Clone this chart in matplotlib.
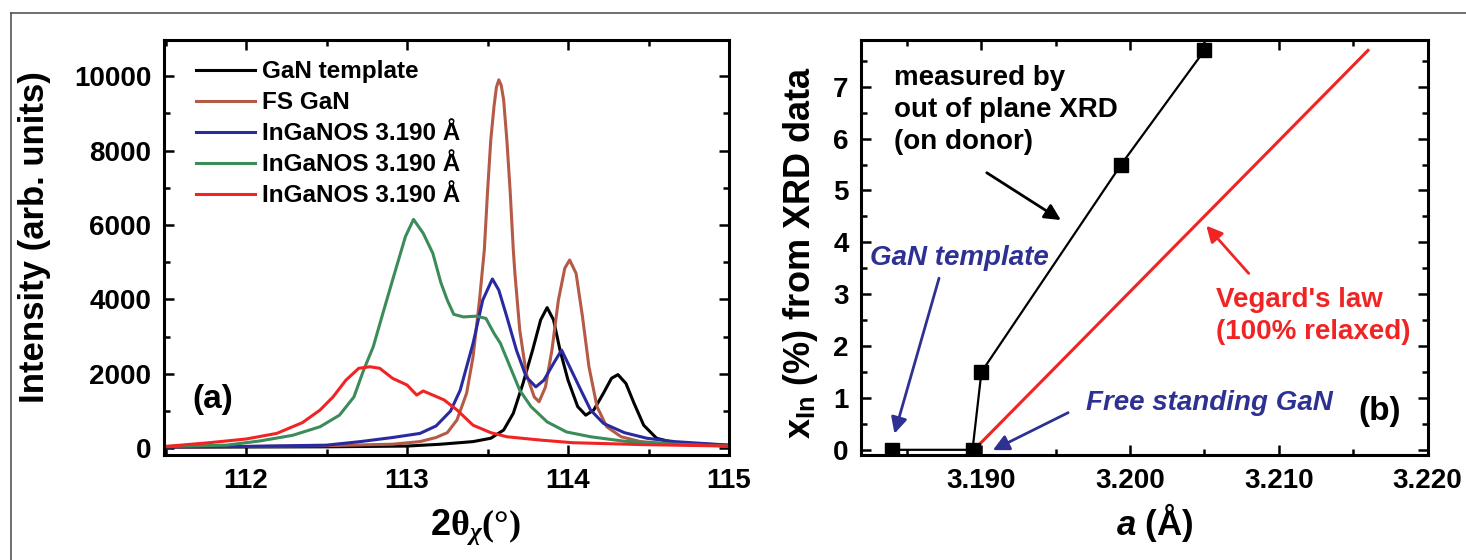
import numpy as np
import matplotlib
matplotlib.use("Agg")
import matplotlib.pyplot as plt
from matplotlib.lines import Line2D
from matplotlib.ticker import MultipleLocator

plt.rcParams['font.family'] = ['Liberation Sans', 'DejaVu Sans']
plt.rcParams['font.weight'] = 'bold'
plt.rcParams['mathtext.fontset'] = 'custom'
plt.rcParams['mathtext.rm'] = 'Liberation Serif'
plt.rcParams['mathtext.it'] = 'Liberation Serif:italic'
plt.rcParams['mathtext.sf'] = 'Liberation Serif:bold'
plt.rcParams['mathtext.bf'] = 'Liberation Sans:bold'
plt.rcParams['mathtext.bfit'] = 'Liberation Sans:bold:italic'

# ---- panel (a): rocking curves ----
tmpl_x = [111.5, 112.0, 112.5, 113.0, 113.21, 113.41, 113.52, 113.60, 113.66, 113.72, 113.78,
          113.83, 113.87, 113.91, 113.95, 114.00, 114.06, 114.11, 114.16, 114.22, 114.27,
          114.31, 114.36, 114.41, 114.47, 114.55, 114.66, 115.0]
tmpl_y = [30, 35, 40, 60, 110, 180, 270, 490, 940, 1740, 2640, 3450, 3780, 3450, 2640, 1830,
          1120, 890, 1030, 1480, 1880, 1980, 1740, 1210, 620, 270, 150, 80]

fs_x = [111.5, 112.0, 112.5, 112.91, 113.08, 113.18, 113.25, 113.31, 113.37, 113.41, 113.45,
        113.48, 113.50, 113.52, 113.54, 113.555, 113.57, 113.585, 113.60, 113.62, 113.64,
        113.66, 113.67, 113.70, 113.74, 113.79, 113.82, 113.86, 113.90, 113.94, 113.98, 114.01,
        114.05, 114.09, 114.13, 114.18, 114.24, 114.33, 114.45, 114.66, 115.0]
fs_y = [40, 50, 70, 110, 180, 290, 420, 760, 1480, 2460, 3980, 5330, 6900, 8280, 9180, 9700,
        9900, 9750, 9360, 8280, 6940, 5330, 4700, 3180, 2010, 1380, 1250, 1650, 2640, 3980,
        4840, 5060, 4700, 3530, 2190, 1120, 580, 310, 180, 110, 70]

blue_x = [111.5, 112.0, 112.5, 112.71, 112.91, 113.08, 113.18, 113.27, 113.33, 113.41, 113.47,
          113.53, 113.57, 113.62, 113.68, 113.74, 113.80, 113.85, 113.91, 113.96, 114.01,
          114.08, 114.14, 114.22, 114.35, 114.49, 114.66, 115.0]
blue_y = [40, 50, 85, 180, 290, 400, 600, 1000, 1560, 2820, 3980, 4550, 4250, 3530, 2630, 1920,
          1650, 1830, 2280, 2640, 2190, 1560, 1030, 670, 420, 270, 180, 85]

green_x = [111.5, 111.88, 112.09, 112.29, 112.46, 112.58, 112.67, 112.73, 112.79, 112.85, 112.91,
           112.99, 113.04, 113.10, 113.16, 113.21, 113.25, 113.29, 113.35, 113.43, 113.49,
           113.54, 113.58, 113.64, 113.70, 113.77, 113.87, 113.99, 114.14, 114.35, 114.66, 115.0]
green_y = [50, 85, 200, 350, 580, 890, 1380, 2100, 2730, 3630, 4520, 5690, 6150, 5780, 5240,
           4450, 3980, 3600, 3530, 3550, 3490, 3090, 2820, 2190, 1560, 1120, 710, 440, 310,
           190, 110, 60]

red_x = [111.5, 111.77, 112.0, 112.19, 112.35, 112.46, 112.54, 112.62, 112.70, 112.77, 112.83,
         112.91, 113.0, 113.06, 113.10, 113.16, 113.23, 113.31, 113.41, 113.52, 113.62, 113.83,
         114.03, 114.45, 115.0]
red_y = [50, 150, 250, 400, 690, 1030, 1380, 1830, 2150, 2190, 2150, 1880, 1700, 1430, 1540,
         1430, 1300, 1030, 620, 420, 310, 220, 150, 100, 60]

labels_a = ['GaN template', 'FS GaN', 'InGaNOS 3.190 Å', 'InGaNOS 3.190 Å', 'InGaNOS 3.190 Å']
colors_a = ['black', '#b45a46', '#2a2aa0', '#3c8c5a', '#f02424']

# ---- panel (b): In fraction vs lattice parameter ----
a_meas = [3.1840, 3.1894, 3.1900, 3.1994, 3.2050]
x_meas = [0.0, 0.0, 1.5, 5.5, 7.7]
a_vegard = [3.1895, 3.2160]
x_vegard = [0.0, 7.7]

blue_txt = '#2e3192'

fig = plt.figure(figsize=(14.66, 5.60), dpi=100)
W, H = 1466.0, 560.0
ax1 = fig.add_axes([164 / W, 1 - 455 / H, 565 / W, 415 / H])
ax2 = fig.add_axes([861 / W, 1 - 455 / H, 566.5 / W, 415 / H])

series = [(tmpl_x, tmpl_y), (fs_x, fs_y), (blue_x, blue_y), (green_x, green_y), (red_x, red_y)]
for (xs, ys), c, lab in zip(series, colors_a, labels_a):
    ax1.plot(xs, ys, color=c, lw=2.2, label=lab)

ax1.set_xlim(111.49, 115.0)
ax1.set_ylim(-180, 10970)
ax1.xaxis.set_major_locator(MultipleLocator(1))
ax1.xaxis.set_minor_locator(MultipleLocator(0.5))
ax1.yaxis.set_major_locator(MultipleLocator(2000))
ax1.yaxis.set_minor_locator(MultipleLocator(1000))

leg = ax1.legend(loc='upper left', bbox_to_anchor=(0.04, 0.975), frameon=False,
                 fontsize=17.5, handlelength=2.4, handletextpad=0.3, labelspacing=0.33,
                 borderaxespad=0)
ax1.text(111.79, 1300, '(a)', fontsize=24, ha='center', va='center')

ax2.plot(a_meas, x_meas, color='black', lw=1.6, marker='s', ms=10, zorder=3)
ax2.plot(a_vegard, x_vegard, color='#f02424', lw=2.2, zorder=2)
ax2.set_xlim(3.1819, 3.2200)
ax2.set_ylim(-0.1, 7.9)
ax2.xaxis.set_major_locator(MultipleLocator(0.01))
ax2.xaxis.set_minor_locator(MultipleLocator(0.005))
ax2.yaxis.set_major_locator(MultipleLocator(1))
ax2.yaxis.set_minor_locator(MultipleLocator(0.5))
ax2.xaxis.set_major_formatter(plt.FuncFormatter(lambda v, p: '%.3f' % v))

ax2.text(3.1841, 6.55, 'measured by\nout of plane XRD\n(on donor)', fontsize=20,
         ha='left', va='center', linespacing=1.3)
ax2.annotate('', xy=(3.1955, 4.40), xytext=(3.1902, 5.37),
             arrowprops=dict(arrowstyle='-|>', color='black', lw=2, mutation_scale=24))
ax2.text(3.1825, 3.69, 'GaN template', fontsize=20, color=blue_txt, style='italic',
         ha='left', va='center')
ax2.annotate('', xy=(3.1841, 0.26), xytext=(3.1872, 3.36),
             arrowprops=dict(arrowstyle='-|>', color=blue_txt, lw=2, mutation_scale=24))
ax2.text(3.1970, 0.90, 'Free standing GaN', fontsize=20, color=blue_txt, style='italic',
         ha='left', va='center')
ax2.annotate('', xy=(3.1906, -0.03), xytext=(3.1960, 0.74),
             arrowprops=dict(arrowstyle='-|>', color=blue_txt, lw=2, mutation_scale=24))
ax2.text(3.2058, 2.57, "Vegard's law\n(100% relaxed)", fontsize=20, color='#f02424',
         ha='left', va='center', linespacing=1.3)
ax2.annotate('', xy=(3.2050, 4.36), xytext=(3.2081, 3.36),
             arrowprops=dict(arrowstyle='-|>', color='#f02424', lw=2, mutation_scale=24))
ax2.text(3.2168, 0.74, '(b)', fontsize=24, ha='center', va='center')

for ax in (ax1, ax2):
    for s in ax.spines.values():
        s.set_linewidth(2.2)
    ax.tick_params(which='both', direction='in', top=True, right=True, width=1.8)
    ax.tick_params(which='major', length=7, labelsize=20, pad=9)
    ax.tick_params(which='minor', length=4)
    for lbl in ax.get_xticklabels() + ax.get_yticklabels():
        lbl.set_fontweight('bold')

# axis titles placed in figure pixels
fig.text(35 / W, 1 - 237 / H, 'Intensity (arb. units)', rotation=90, fontsize=25,
         ha='center', va='center')
fig.text(475 / W, 1 - 527 / H, r'$\mathbf{2}\mathsf{θ}_{\mathit{χ}}\mathrm{(°)}$', fontsize=26,
         fontweight='normal', ha='center', va='center')
fig.text(800 / W, 1 - 252 / H, r'x$_{\mathbf{In}}$ (%) from XRD data', rotation=90,
         fontsize=26, ha='center', va='center')
fig.text(1155 / W, 1 - 523 / H, r'$\mathbfit{a}$ (Å)', fontsize=25, ha='center', va='center')

# outer frame (top and left edges only)
fig.add_artist(Line2D([11 / W, 1], [1 - 13 / H, 1 - 13 / H], transform=fig.transFigure,
                      color='#555555', lw=1.2))
fig.add_artist(Line2D([11 / W, 11 / W], [0, 1 - 13 / H], transform=fig.transFigure,
                      color='#555555', lw=1.2))

fig.savefig('out.png', dpi=100)
